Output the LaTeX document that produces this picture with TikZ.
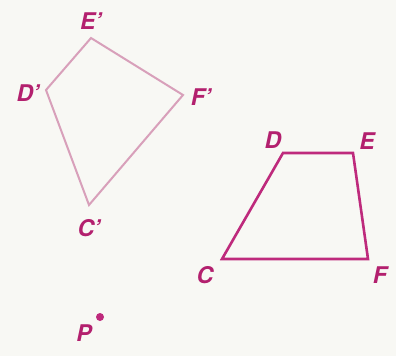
\documentclass[tikz,border=0pt]{standalone}
\usepackage{fontspec}
\setmainfont{TeX Gyre Heros}
\newcommand{\pr}{\char"0027}
\begin{document}
\begin{tikzpicture}[x=1pt,y=-1pt,
  lbl/.style={text=labc,font=\fontsize{23}{23}\selectfont\bfseries\itshape,inner sep=0pt},
  img/.style={draw=imgc,line width=2pt,line join=miter},
  orig/.style={draw=origc,line width=2.6pt,line join=miter}]
\definecolor{bgc}{HTML}{F8F8F4}
\definecolor{labc}{HTML}{B3206E}
\definecolor{origc}{HTML}{BE2A7C}
\definecolor{imgc}{HTML}{D8A0BA}
\fill[bgc] (0,0) rectangle (396,356);
\useasboundingbox (0,0) rectangle (396,356);
% image quadrilateral
\coordinate (Ep) at (91,38);
\coordinate (Dp) at (46,90);
\coordinate (Cp) at (89,205);
\coordinate (Fp) at (183,95);
\draw[img] (Ep) -- (Fp) -- (Cp) -- (Dp) -- cycle;
% original quadrilateral
\coordinate (D) at (283,153);
\coordinate (E) at (353,153);
\coordinate (F) at (368,259);
\coordinate (C) at (222,259);
\draw[orig] (D) -- (E) -- (F) -- (C) -- cycle;
% labels
\node[lbl] (lEp) at (91,21) {E\pr};
\node[lbl] (lDp) at (28,93) {D\pr};
\node[lbl] (lFp) at (201,97) {F\pr};
\node[lbl] (lCp) at (89,228) {C\pr};
\node[lbl] (lD) at (273,140) {D};
\node[lbl] (lE) at (367,141) {E};
\node[lbl] (lC) at (205,275) {C};
\node[lbl] (lF) at (380,275) {F};
% centre P
\fill[origc] (100,317) circle (4pt) coordinate (P);
\node[lbl] (lP) at (84,333) {P};
\end{tikzpicture}
\end{document}
